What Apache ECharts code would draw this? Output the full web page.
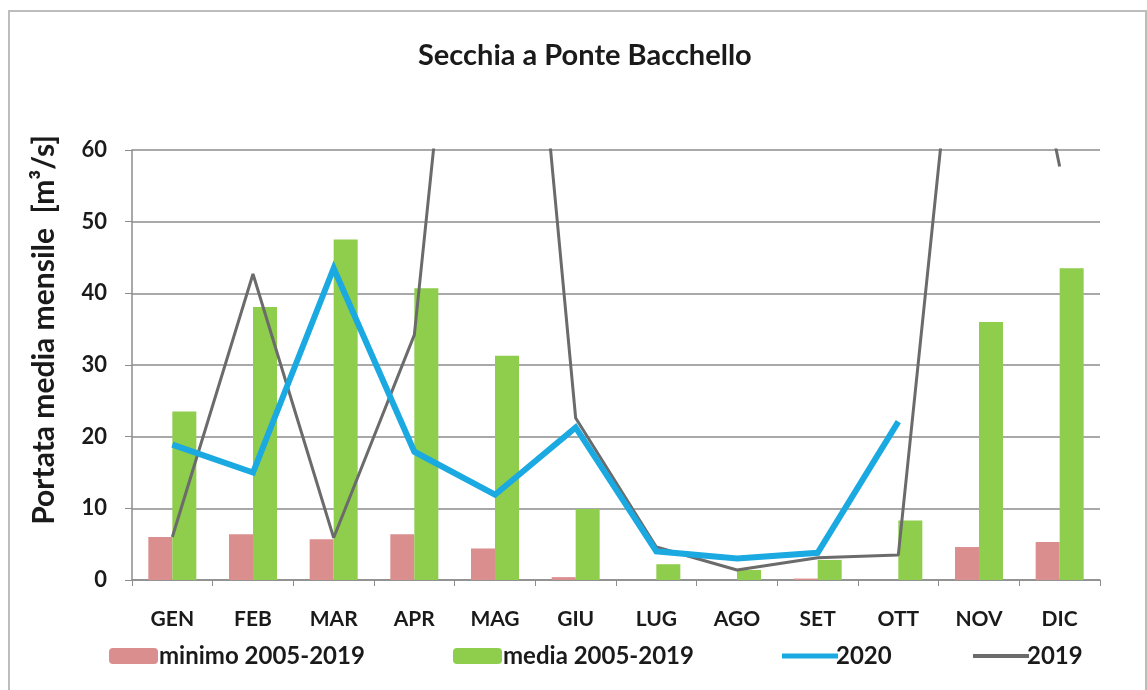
<!DOCTYPE html>
<html>
<head>
<meta charset="utf-8">
<title>Secchia a Ponte Bacchello</title>
<script src="https://cdn.jsdelivr.net/npm/echarts@6/dist/echarts.min.js"></script>
<style>
  html, body { margin: 0; padding: 0; background: #ffffff; }
  #chart { width: 1147px; height: 690px; }
</style>
</head>
<body>
<div id="chart"></div>
<script>
// Mesi dell'anno
const months = ['GEN', 'FEB', 'MAR', 'APR', 'MAG', 'GIU', 'LUG', 'AGO', 'SET', 'OTT', 'NOV', 'DIC'];

// Portata media mensile [m3/s]
const minimo = [6.0, 6.4, 5.7, 6.4, 4.4, 0.4, 0.0, 0.0, 0.2, 0.0, 4.6, 5.3];
const media = [23.5, 38.1, 47.5, 40.7, 31.3, 9.9, 2.2, 1.4, 2.8, 8.3, 36.0, 43.5];
const anno2020 = [18.9, 15.0, 43.5, 17.9, 11.9, 21.3, 4.0, 3.0, 3.8, 22.1, null, null];
const anno2019 = [6.0, 42.7, 5.9, 34.2, 143, 22.6, 4.6, 1.4, 3.1, 3.5, 112, 57.7];

// Scala dell'asse delle portate
const yMin = 0, yMax = 60, yStep = 10;

const FONT = 'Lato, "Open Sans", sans-serif';
const INK = '#1a1a1a';

const chart = echarts.init(document.getElementById('chart'), null, { renderer: 'canvas' });

function legendAt(item, left, w, h, shift) {
  return {
    data: [item],
    left: left,
    top: 639,
    itemWidth: w,
    itemHeight: h,
    itemGap: 0,
    textStyle: { fontFamily: FONT, fontSize: 24, fontWeight: 'bold', color: INK, padding: [0, 0, 0, shift] }
  };
}

chart.setOption({
  animation: false,
  backgroundColor: '#ffffff',
  title: {
    text: 'Secchia a Ponte Bacchello',
    left: 413,
    top: 36,
    textStyle: { fontFamily: FONT, fontSize: 29, fontWeight: 'bold', color: INK }
  },
  graphic: [
    {
      type: 'polyline',
      shape: { points: [[9, 700], [9, 11], [1146, 11], [1146, 700]] },
      style: { stroke: '#bdbdbd', lineWidth: 2, fill: null },
      silent: true
    },
    {
      // titolo dell'asse verticale
      type: 'text',
      x: 44,
      y: 330,
      rotation: Math.PI / 2,
      style: {
        text: 'Portata media mensile  [m³/s]',
        fontFamily: FONT,
        fontSize: 30,
        fontWeight: 'bold',
        fill: INK,
        align: 'center',
        verticalAlign: 'middle'
      },
      silent: true
    }
  ],
  legend: [
    legendAt('minimo 2005-2019', 104, 49, 16, -4),
    legendAt('media 2005-2019', 448, 49, 16, -4),
    legendAt({ name: '2020', icon: 'rect' }, 777, 56, 5, -7),
    legendAt({ name: '2019', icon: 'rect' }, 968, 56, 4, -7)
  ],
  grid: { left: 132, right: 47, top: 150, bottom: 110, containLabel: false },
  xAxis: {
    type: 'category',
    data: months,
    boundaryGap: true,
    axisLine: { lineStyle: { color: '#8c8c8c', width: 1.5 } },
    axisTick: { show: true, length: 6, lineStyle: { color: '#8c8c8c' } },
    axisLabel: { fontFamily: FONT, fontSize: 21, fontWeight: 'bold', color: INK, margin: 29 }
  },
  yAxis: {
    type: 'value',
    min: yMin,
    max: yMax,
    interval: yStep,
    axisLine: { show: true, lineStyle: { color: '#8c8c8c', width: 1.5 } },
    axisTick: { show: true, length: 7, lineStyle: { color: '#8c8c8c' } },
    axisLabel: { fontFamily: FONT, fontSize: 22, fontWeight: 'bold', color: INK, margin: 25 },
    splitLine: { show: true, lineStyle: { color: '#8c8c8c', width: 1.5 } }
  },
  series: [
    {
      name: 'minimo 2005-2019',
      type: 'bar',
      data: minimo,
      barWidth: 24,
      barGap: '0%',
      itemStyle: { color: '#da8e8e' },
      z: 2
    },
    {
      name: 'media 2005-2019',
      type: 'bar',
      data: media,
      barWidth: 24,
      barGap: '0%',
      itemStyle: { color: '#8fcd4c' },
      z: 2
    },
    {
      name: '2019',
      type: 'line',
      data: anno2019,
      symbol: 'none',
      clip: true,
      lineStyle: { color: '#6b6b6b', width: 3 },
      itemStyle: { color: '#6b6b6b' },
      z: 3
    },
    {
      name: '2020',
      type: 'line',
      data: anno2020,
      symbol: 'none',
      clip: true,
      connectNulls: false,
      lineStyle: { color: '#1aa9e0', width: 6, join: 'miter' },
      itemStyle: { color: '#1aa9e0' },
      z: 4
    }
  ]
});
</script>
</body>
</html>
